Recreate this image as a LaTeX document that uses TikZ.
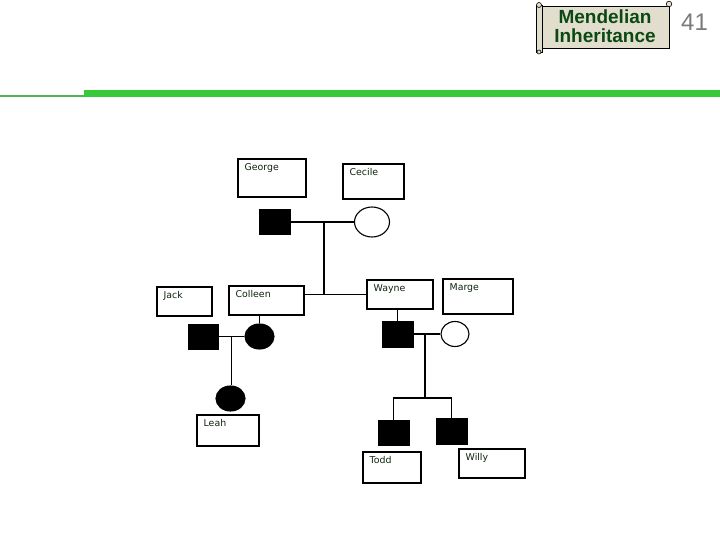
\documentclass[tikz,border=0pt]{standalone}
\usepackage{fontspec}
\setsansfont{Liberation Sans}
\newfontfamily\namefont{DejaVu Sans}
\usetikzlibrary{shapes.geometric}

\definecolor{thingreen}{RGB}{76,182,76}
\definecolor{bargreen}{RGB}{56,200,56}
\definecolor{scrollfill}{RGB}{226,222,206}
\definecolor{titlegreen}{RGB}{12,72,20}
\definecolor{nametext}{RGB}{14,36,14}

\tikzset{
  namebox/.style={draw, line width=1.1pt, inner sep=0pt},
  tag/.style={anchor=north west, inner sep=0pt, xshift=7pt, yshift=-4.5pt,
              font=\namefont\fontsize{9.4}{10}\selectfont, text=nametext},
  male/.style={draw, fill=black, rectangle, minimum width=31pt,
               minimum height=25pt, inner sep=0pt},
  female/.style={draw, ellipse, line width=1.1pt, fill=white,
                 minimum width=29pt, minimum height=25pt, inner sep=0pt},
  link/.style={line width=1.2pt}
}

\begin{document}
\begin{tikzpicture}[x=1pt, y=-1pt]
  \useasboundingbox (0,0) rectangle (720,540);
  % header
  \fill[thingreen] (0,95.5) rectangle (84,97.5);
  \fill[bargreen] (84,90.5) rectangle (720,97.5);
  \draw[fill=scrollfill, line width=0.6pt] (540,6) rectangle (669,48);
  \draw[fill=scrollfill, line width=0.6pt] (536,5) rectangle (542,52);
  \draw[fill=scrollfill, line width=0.6pt] (539,5) circle (2.5);
  \draw[fill=scrollfill, line width=0.6pt] (539,52) circle (2);
  \draw[fill=scrollfill, line width=0.6pt] (669,4) circle (2.8);
  \node[font=\sffamily\bfseries\fontsize{19}{19}\selectfont, text=titlegreen,
        align=center, inner sep=0pt] (title) at (605,26) {Mendelian\\Inheritance};
  \node[font=\sffamily\fontsize{24}{24}\selectfont, text=black!52, anchor=west,
        inner sep=0pt] (slideno) at (681,22) {41};

  % name boxes
  \node[namebox, minimum width=68pt, minimum height=38pt,
        label={[tag]north west:George}] (george) at (272,178) {};
  \node[namebox, minimum width=61pt, minimum height=35pt,
        label={[tag]north west:Cecile}] (cecile) at (373.5,181.5) {};
  \node[namebox, minimum width=55pt, minimum height=29pt,
        label={[tag]north west:Jack}] (jack) at (184.5,301.5) {};
  \node[namebox, minimum width=75pt, minimum height=29pt,
        label={[tag]north west:Colleen}] (colleen) at (266.5,300.5) {};
  \node[namebox, minimum width=66pt, minimum height=29pt,
        label={[tag]north west:Wayne}] (wayne) at (400,294.5) {};
  \node[namebox, minimum width=70pt, minimum height=35pt,
        label={[tag]north west:Marge}] (marge) at (478,296.5) {};
  \node[namebox, minimum width=62pt, minimum height=31pt,
        label={[tag]north west:Leah}] (leah) at (228,430.5) {};
  \node[namebox, minimum width=58pt, minimum height=31pt,
        label={[tag]north west:Todd}] (todd) at (392,467.5) {};
  \node[namebox, minimum width=66pt, minimum height=29pt,
        label={[tag]north west:Willy}] (willy) at (492,463.5) {};

  % pedigree symbols
  \node[male] (georgesq) at (274.5,222) {};
  \node[female, minimum width=35pt, minimum height=30pt] (cecileci) at (372,222) {};
  \node[male, minimum width=30pt] (jacksq) at (203,336.5) {};
  \node[female, fill=black] (colleenci) at (259.5,336.5) {};
  \node[female, fill=black] (leahci) at (230.5,398.5) {};
  \node[male, minimum height=26pt] (waynesq) at (397.5,334) {};
  \node[female, minimum width=28pt] (margeci) at (455,334) {};
  \node[male] (toddsq) at (393.5,432.5) {};
  \node[male, minimum height=26pt] (willysq) at (451.5,431) {};

  % connectors
  \draw[link] (georgesq) -- coordinate[pos=0.53] (gc) (cecileci);
  \draw[link] (gc) -- (gc |- wayne.west);
  \draw[link] (colleen.east |- wayne.west) -- (wayne.west);
  \draw[link] (colleenci) -- (colleenci |- colleen.south);
  \draw[link] (jacksq) -- coordinate[pos=0.5] (jc) (colleenci);
  \draw[link] (jc) -- (jc |- leahci.north);
  \draw[link] (waynesq) -- (waynesq |- wayne.south);
  \draw[link] (waynesq) -- coordinate[pos=0.43] (wm) (margeci);
  \coordinate (sib) at (wm |- 0,398);
  \draw[link] (wm) -- (sib);
  \draw[link] (toddsq) |- (sib) -| (willysq);
\end{tikzpicture}
\end{document}
